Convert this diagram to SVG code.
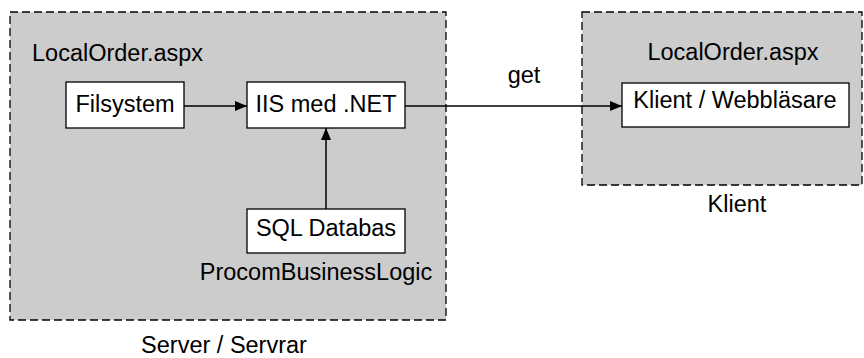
<svg xmlns="http://www.w3.org/2000/svg" width="864" height="358" viewBox="0 0 864 358">
<style>
.cont{fill:#cccccc;stroke:#000;stroke-width:1.3;stroke-dasharray:8 4}
.box{fill:#fff;stroke:#000;stroke-width:1.3}
.t{font-family:"Liberation Sans",Arial,sans-serif;font-size:23.5px;fill:#000}
.m{text-anchor:middle}
.c{stroke:#000;stroke-width:1.5;fill:none}
</style>
<defs>
<marker id="ah" viewBox="0 0 12 10" refX="12" refY="5" markerWidth="12" markerHeight="10" markerUnits="userSpaceOnUse" orient="auto">
<path d="M0,0 L12,5 L0,10 Z" fill="#000"/>
</marker>
</defs>
<g id="server">
<rect class="cont" x="10" y="12" width="436" height="308"/>
<text class="t" x="32" y="61">LocalOrder.aspx</text>
<text class="t m" x="316" y="280">ProcomBusinessLogic</text>
<text class="t m" x="224" y="353">Server / Servrar</text>
</g>
<g id="klient">
<rect class="cont" x="582" y="12" width="280" height="173"/>
<text class="t m" x="733" y="60">LocalOrder.aspx</text>
<text class="t m" x="737" y="212">Klient</text>
</g>
<g id="filsystem">
<rect class="box" x="66" y="82" width="118" height="46"/>
<text class="t m" x="125" y="112">Filsystem</text>
</g>
<g id="iis">
<rect class="box" x="247" y="82" width="158" height="46"/>
<text class="t m" x="326" y="112">IIS med .NET</text>
</g>
<g id="sql">
<rect class="box" x="247" y="209" width="158" height="44"/>
<text class="t m" x="326" y="236">SQL Databas</text>
</g>
<g id="webb">
<rect class="box" x="622" y="83" width="227" height="44"/>
<text class="t m" x="735" y="108">Klient / Webbläsare</text>
</g>
<g id="connectors">
<line class="c" x1="184" y1="106" x2="247" y2="106" marker-end="url(#ah)"/>
<line class="c" x1="326" y1="209" x2="326" y2="128" marker-end="url(#ah)"/>
<line class="c" x1="405" y1="106" x2="622" y2="106" marker-end="url(#ah)"/>
<text class="t m" x="524" y="83">get</text>
</g>
</svg>
